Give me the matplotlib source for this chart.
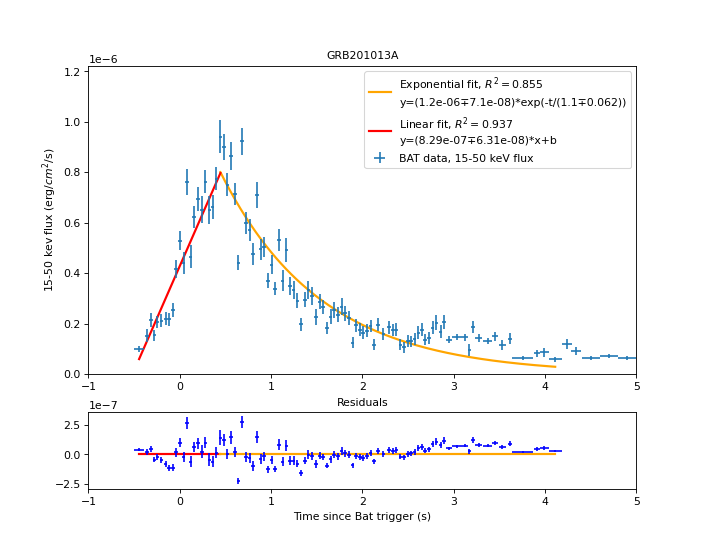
import numpy as np
import matplotlib
matplotlib.use("Agg")
import matplotlib.pyplot as plt

# BAT light curve (flux in units of 1e-6 erg/cm^2/s)
time = [
    -0.445, -0.36, -0.317, -0.277, -0.244, -0.2, -0.156, -0.119, -0.075, -0.038,
    0.0, 0.042, 0.079, 0.119, 0.159, 0.203, 0.24, 0.28, 0.324, 0.36,
    0.401, 0.445, 0.481, 0.522, 0.563, 0.607, 0.643, 0.683, 0.723, 0.764,
    0.804, 0.844, 0.885, 0.925, 0.969, 1.005, 1.046, 1.086, 1.126, 1.167,
    1.207, 1.247, 1.288, 1.327, 1.368, 1.409, 1.448, 1.489, 1.53, 1.57,
    1.61, 1.651, 1.69, 1.731, 1.771, 1.811, 1.852, 1.892, 1.932, 1.973,
    2.009, 2.049, 2.09, 2.13, 2.17, 2.23, 2.29, 2.335, 2.371, 2.415,
    2.453, 2.497, 2.533, 2.57, 2.613, 2.65, 2.687, 2.731, 2.767, 2.81,
    2.855, 2.892, 2.946, 3.035, 3.12, 3.17, 3.212, 3.272, 3.372, 3.454,
    3.53, 3.613, 3.755, 3.91, 3.992, 4.11, 4.236, 4.337, 4.5, 4.7,
    4.9, 5.1,
]
flux = [
    0.100, 0.151, 0.214, 0.153, 0.206, 0.212, 0.220, 0.217, 0.254, 0.415,
    0.529, 0.439, 0.762, 0.466, 0.624, 0.693, 0.651, 0.762, 0.651, 0.664,
    0.775, 0.942, 0.900, 0.751, 0.865, 0.714, 0.442, 0.923, 0.598, 0.571,
    0.476, 0.709, 0.495, 0.503, 0.370, 0.434, 0.339, 0.532, 0.370, 0.492,
    0.349, 0.333, 0.291, 0.198, 0.294, 0.333, 0.310, 0.227, 0.286, 0.265,
    0.183, 0.227, 0.254, 0.235, 0.267, 0.241, 0.222, 0.124, 0.193, 0.175,
    0.164, 0.172, 0.190, 0.116, 0.195, 0.160, 0.186, 0.175, 0.175, 0.116,
    0.106, 0.130, 0.130, 0.138, 0.164, 0.175, 0.135, 0.143, 0.183, 0.204,
    0.167, 0.205, 0.135, 0.145, 0.145, 0.095, 0.187, 0.141, 0.131, 0.150,
    0.115, 0.139, 0.064, 0.082, 0.087, 0.058, 0.118, 0.091, 0.064, 0.072,
    0.064, 0.080,
]
flux_err = [
    0.011, 0.026, 0.026, 0.022, 0.025, 0.025, 0.026, 0.025, 0.029, 0.036,
    0.038, 0.044, 0.053, 0.044, 0.044, 0.048, 0.054, 0.046, 0.055, 0.048,
    0.046, 0.067, 0.053, 0.046, 0.055, 0.042, 0.029, 0.054, 0.044, 0.042,
    0.042, 0.052, 0.042, 0.040, 0.030, 0.037, 0.026, 0.044, 0.041, 0.046,
    0.037, 0.037, 0.030, 0.026, 0.030, 0.035, 0.035, 0.032, 0.030, 0.028,
    0.025, 0.030, 0.030, 0.030, 0.033, 0.030, 0.028, 0.022, 0.025, 0.026,
    0.026, 0.026, 0.025, 0.022, 0.026, 0.024, 0.026, 0.024, 0.026, 0.022,
    0.022, 0.024, 0.022, 0.024, 0.026, 0.026, 0.022, 0.024, 0.026, 0.028,
    0.026, 0.028, 0.014, 0.012, 0.014, 0.022, 0.024, 0.016, 0.012, 0.018,
    0.018, 0.022, 0.008, 0.015, 0.018, 0.010, 0.020, 0.016, 0.008, 0.008,
    0.008, 0.010,
]
# half bin widths (s)
time_err = [0.055] + [0.02] * 81 + [
    0.035, 0.05, 0.035, 0.015, 0.025, 0.035, 0.05, 0.035, 0.04, 0.025,
    0.115, 0.03, 0.05, 0.07, 0.055, 0.055, 0.1, 0.1, 0.1, 0.1,
]

# fit parameters (from the legend)
EXP_AMP, EXP_TAU = 1.2e-6, 1.1
LIN_SLOPE, LIN_INTERCEPT = 8.29e-7, 4.28e-7
FIT_END = 4.11

exp_label = "Exponential fit, $R^2 = 0.855$\ny=(1.2e-06\u22137.1e-08)*exp(-t/(1.1\u22130.062))"
lin_label = "Linear fit, $R^2 = 0.937$\ny=(8.29e-07\u22136.31e-08)*x+b"
data_label = "BAT data, 15-50 keV flux"


def main():
    t = np.array(time)
    y = np.array(flux) * 1e-6
    yerr = np.array(flux_err) * 1e-6
    xerr = np.array(time_err)

    t_peak = t[np.argmax(y)]
    t_lin = np.linspace(t[0], t_peak, 50)
    t_exp = np.linspace(t_peak, FIT_END, 200)

    fig, (ax, axr) = plt.subplots(2, 1, figsize=(9, 7),
                                  gridspec_kw={"height_ratios": [4, 1]})

    ax.plot(t_exp, EXP_AMP * np.exp(-t_exp / EXP_TAU), color="orange", lw=2,
            label=exp_label)
    ax.plot(t_lin, LIN_SLOPE * t_lin + LIN_INTERCEPT, color="red", lw=2,
            label=lin_label)
    ax.errorbar(t, y, yerr=yerr, xerr=xerr, fmt="none", ecolor="C0",
                label=data_label)
    ax.set_xlim(-1, 5)
    ax.set_ylim(0, 1.222e-6)
    ax.set_title("GRB201013A", fontsize=10)
    ax.set_ylabel("15-50 kev flux (erg/$cm^2$/s)")
    leg = ax.legend(loc="upper right", labelspacing=0.7)
    for txt in leg.get_texts():
        txt.set_linespacing(1.4)

    # residuals: data minus the fitted model
    mask = t <= FIT_END + 1e-9
    model = np.where(t <= t_peak, LIN_SLOPE * t + LIN_INTERCEPT,
                     EXP_AMP * np.exp(-t / EXP_TAU))
    resid = (y - model)[mask]
    axr.plot([t[0], t_peak], [0, 0], color="red", lw=2)
    axr.plot([t_peak, FIT_END], [0, 0], color="orange", lw=2)
    axr.errorbar(t[mask], resid, yerr=yerr[mask], xerr=xerr[mask], fmt="none",
                 ecolor="b")
    axr.set_xlim(-1, 5)
    axr.set_ylim(-3.0e-7, 3.6e-7)
    axr.set_title("Residuals", fontsize=10)
    axr.set_xlabel("Time since Bat trigger (s)")

    # original was 9x7 in, shown at 707x550 px
    plt.savefig("out.png", dpi=78.58)


if __name__ == "__main__":
    main()
